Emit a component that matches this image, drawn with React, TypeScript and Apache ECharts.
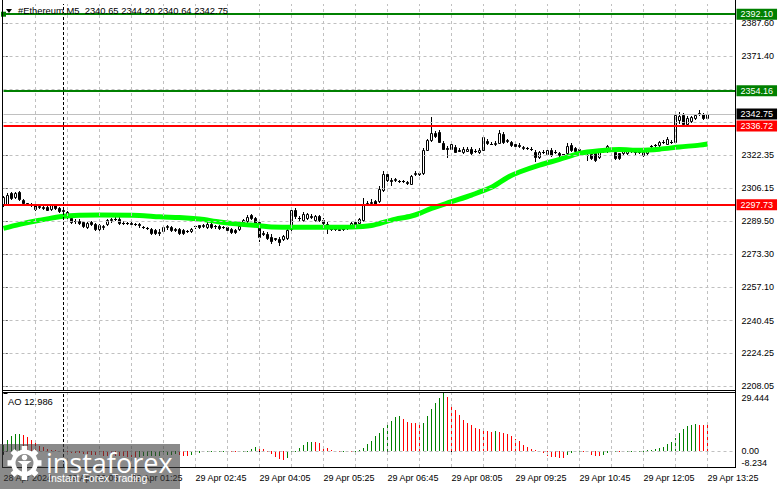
import React, { useEffect, useRef } from 'react';
import * as echarts from 'echarts';

const symbolTitle = '#Ethereum,M5';
const timeLabels = ['28 Apr 2024', '29 Apr 00:05', '29 Apr 01:25', '29 Apr 02:45', '29 Apr 04:05', '29 Apr 05:25', '29 Apr 06:45', '29 Apr 08:05', '29 Apr 09:25', '29 Apr 10:45', '29 Apr 12:05', '29 Apr 13:25'];
const timeLabelIdx = [0, 16, 32, 48, 64, 80, 96, 112, 128, 144, 160, 176];
const priceGrid = [2387.6, 2371.4, 2354.75, 2338.55, 2322.35, 2306.15, 2289.5, 2273.3, 2257.1, 2240.45, 2224.25, 2208.05];
const priceLabels = [2387.6, 2371.4, 2322.35, 2306.15, 2289.5, 2273.3, 2257.1, 2240.45, 2224.25, 2208.05];
const greenLevels = [2392.1, 2354.16];
const redLevels = [2336.72, 2297.73];
const separatorIdx = 15;

const openP = [
  2298.1, 2298.1, 2303.5, 2301.5, 2304.0, 2300.1, 2298.6, 2298.1, 2297.6, 2296.8,
  2296.6, 2296.6, 2295.6, 2297.6, 2296.1, 2295.1, 2294.1, 2291.2, 2289.7, 2289.7,
  2289.2, 2286.7, 2289.2, 2288.2, 2285.7, 2286.9, 2288.2, 2290.2, 2290.7, 2290.7,
  2288.7, 2288.9, 2288.7, 2288.4, 2288.2, 2286.9, 2286.4, 2285.7, 2285.2, 2284.2,
  2284.7, 2286.7, 2286.7, 2285.7, 2285.6, 2285.2, 2284.9, 2284.9, 2287.2, 2287.8,
  2287.5, 2286.8, 2288.5, 2287.2, 2287.5, 2286.8, 2286.8, 2285.9, 2285.2, 2285.6,
  2289.2, 2289.7, 2292.6, 2291.2, 2289.2, 2283.7, 2283.5, 2281.8, 2281.3, 2280.8,
  2280.8, 2281.3, 2285.7, 2295.1, 2291.4, 2290.2, 2291.2, 2292.1, 2290.2, 2292.1,
  2290.2, 2288.2, 2285.7, 2285.6, 2285.7, 2285.7, 2286.2, 2286.9, 2289.2, 2288.9,
  2290.2, 2298.3, 2298.6, 2299.6, 2299.6, 2305.0, 2312.9, 2310.0, 2310.2, 2309.7,
  2309.5, 2309.0, 2308.3, 2312.9, 2313.3, 2313.3, 2325.1, 2329.7, 2333.3, 2333.8,
  2328.4, 2325.8, 2325.6, 2326.4, 2324.8, 2323.9, 2324.4, 2325.6, 2324.4, 2323.8,
  2325.1, 2329.5, 2328.1, 2328.1, 2328.4, 2333.0, 2329.4, 2328.9, 2328.1, 2327.3,
  2326.1, 2326.0, 2325.4, 2323.9, 2321.5, 2323.9, 2322.8, 2325.1, 2323.9, 2323.4,
  2322.8, 2323.2, 2327.3, 2326.1, 2325.1, 2323.9, 2322.3, 2322.8, 2323.2, 2321.5,
  2324.4, 2324.4, 2325.3, 2323.9, 2323.2, 2323.2, 2323.5, 2324.4, 2323.8, 2323.8,
  2322.3, 2323.2, 2326.8, 2327.3, 2327.3, 2328.9, 2328.1, 2328.9, 2328.9, 2339.6,
  2342.1, 2338.0, 2339.3, 2340.5, 2342.9, 2342.6, 2340.65,
];
const highP = [
  2302.0, 2303.5, 2304.0, 2304.0, 2304.5, 2300.6, 2298.8, 2298.6, 2298.1, 2297.6,
  2297.1, 2297.1, 2298.1, 2298.1, 2296.6, 2295.6, 2294.6, 2292.1, 2290.7, 2290.7,
  2289.7, 2289.2, 2289.7, 2288.7, 2288.2, 2287.7, 2290.7, 2291.2, 2291.7, 2291.7,
  2289.7, 2289.2, 2289.2, 2288.7, 2288.7, 2287.2, 2286.7, 2286.2, 2285.7, 2285.7,
  2287.2, 2287.7, 2287.2, 2286.2, 2286.2, 2285.7, 2285.2, 2286.2, 2287.9, 2287.9,
  2288.2, 2289.2, 2288.9, 2287.9, 2287.9, 2287.4, 2287.2, 2286.2, 2285.7, 2287.7,
  2290.7, 2292.6, 2293.1, 2291.7, 2289.7, 2284.7, 2284.2, 2283.2, 2281.5, 2281.8,
  2282.7, 2285.7, 2295.6, 2296.1, 2292.1, 2294.1, 2293.6, 2293.1, 2292.6, 2292.6,
  2291.2, 2289.2, 2286.2, 2286.2, 2286.2, 2286.7, 2287.7, 2289.2, 2289.7, 2291.2,
  2300.9, 2299.6, 2300.6, 2300.1, 2307.0, 2314.7, 2313.9, 2310.9, 2310.9, 2310.0,
  2310.0, 2309.5, 2312.4, 2314.4, 2313.9, 2325.8, 2330.2, 2341.3, 2334.2, 2334.7,
  2329.2, 2326.8, 2328.2, 2327.3, 2325.8, 2326.3, 2326.3, 2326.3, 2325.3, 2325.8,
  2331.7, 2330.5, 2328.7, 2329.2, 2334.7, 2333.7, 2330.2, 2329.5, 2328.7, 2328.2,
  2326.8, 2326.3, 2326.3, 2324.8, 2324.5, 2324.8, 2325.3, 2325.8, 2324.8, 2323.8,
  2323.1, 2328.4, 2328.2, 2326.5, 2325.8, 2324.5, 2323.3, 2323.3, 2323.8, 2324.3,
  2325.3, 2327.3, 2325.8, 2324.3, 2323.6, 2325.3, 2325.5, 2325.3, 2324.5, 2324.1,
  2324.3, 2326.0, 2327.5, 2328.0, 2329.5, 2329.7, 2331.5, 2329.7, 2343.3, 2343.7,
  2343.1, 2341.6, 2341.6, 2342.9, 2344.9, 2343.3, 2344.2,
];
const lowP = [
  2297.1, 2297.6, 2300.6, 2301.1, 2300.1, 2298.1, 2297.6, 2297.1, 2295.1, 2296.1,
  2295.6, 2295.1, 2295.1, 2295.6, 2294.1, 2294.1, 2291.2, 2288.7, 2288.7, 2288.2,
  2286.7, 2286.2, 2287.7, 2285.2, 2285.2, 2285.7, 2287.7, 2289.2, 2290.2, 2288.2,
  2288.2, 2288.2, 2287.7, 2287.7, 2286.7, 2286.2, 2285.7, 2283.2, 2283.2, 2282.8,
  2284.2, 2285.9, 2285.0, 2285.0, 2283.2, 2283.2, 2284.5, 2284.5, 2286.4, 2286.2,
  2286.7, 2286.4, 2286.4, 2286.4, 2285.7, 2286.2, 2285.2, 2283.7, 2284.0, 2285.2,
  2288.7, 2289.2, 2290.7, 2288.7, 2280.0, 2282.7, 2280.8, 2278.8, 2280.3, 2277.8,
  2280.3, 2280.8, 2285.2, 2291.2, 2290.2, 2289.7, 2290.7, 2291.2, 2289.7, 2289.7,
  2288.2, 2283.7, 2285.2, 2285.2, 2285.2, 2285.2, 2285.7, 2286.7, 2287.7, 2288.7,
  2289.7, 2297.6, 2298.1, 2297.6, 2299.1, 2304.5, 2309.5, 2307.5, 2309.5, 2309.2,
  2309.0, 2308.0, 2308.0, 2312.4, 2312.4, 2312.9, 2324.8, 2329.2, 2331.2, 2328.7,
  2325.3, 2321.3, 2325.3, 2323.8, 2324.3, 2323.5, 2324.3, 2323.0, 2323.8, 2323.3,
  2324.8, 2327.7, 2327.7, 2327.3, 2328.2, 2328.5, 2328.7, 2326.8, 2326.3, 2326.5,
  2325.3, 2325.5, 2324.8, 2319.5, 2321.1, 2323.3, 2322.3, 2321.8, 2323.3, 2321.8,
  2322.3, 2322.8, 2324.3, 2324.1, 2324.3, 2323.3, 2319.8, 2320.3, 2319.4, 2321.1,
  2323.8, 2324.1, 2324.3, 2320.3, 2320.3, 2322.8, 2323.1, 2323.8, 2323.1, 2323.3,
  2321.8, 2322.8, 2326.0, 2326.5, 2326.8, 2328.2, 2327.7, 2328.2, 2328.5, 2338.2,
  2337.7, 2337.7, 2338.9, 2340.1, 2342.1, 2340.1, 2340.64,
];
const closeP = [
  2301.5, 2302.5, 2301.1, 2303.5, 2300.6, 2298.6, 2298.1, 2297.6, 2295.6, 2297.1,
  2296.1, 2295.4, 2297.6, 2296.1, 2294.6, 2294.6, 2291.7, 2289.2, 2289.9, 2288.7,
  2287.2, 2288.7, 2288.2, 2285.7, 2287.7, 2287.2, 2290.2, 2290.7, 2290.9, 2288.7,
  2288.9, 2288.7, 2288.4, 2288.2, 2287.7, 2286.7, 2286.2, 2283.7, 2283.7, 2283.7,
  2286.7, 2287.2, 2285.5, 2285.5, 2283.9, 2283.9, 2284.8, 2285.9, 2287.1, 2286.8,
  2287.6, 2288.5, 2286.8, 2287.1, 2286.2, 2286.9, 2285.5, 2284.2, 2284.4, 2287.2,
  2290.2, 2291.7, 2291.2, 2288.9, 2282.0, 2283.5, 2281.3, 2279.8, 2281.0, 2279.3,
  2282.3, 2285.2, 2295.1, 2292.1, 2291.2, 2293.1, 2293.1, 2291.9, 2292.1, 2290.2,
  2288.7, 2287.7, 2285.6, 2285.7, 2285.5, 2285.9, 2287.2, 2288.8, 2287.9, 2290.8,
  2298.4, 2298.6, 2299.3, 2298.1, 2305.5, 2312.9, 2310.0, 2309.7, 2310.4, 2309.5,
  2309.4, 2308.6, 2311.9, 2313.3, 2312.9, 2325.1, 2329.7, 2333.4, 2331.7, 2328.9,
  2325.6, 2325.6, 2327.7, 2323.9, 2324.6, 2325.6, 2325.6, 2323.4, 2324.5, 2325.1,
  2331.1, 2328.5, 2327.9, 2328.2, 2333.3, 2328.9, 2329.6, 2327.3, 2326.8, 2327.1,
  2326.3, 2325.8, 2325.5, 2321.5, 2323.9, 2324.0, 2324.8, 2322.3, 2324.0, 2322.2,
  2322.7, 2326.8, 2324.8, 2324.5, 2325.2, 2323.8, 2322.4, 2320.7, 2319.8, 2323.9,
  2324.5, 2326.8, 2324.5, 2320.7, 2320.7, 2324.8, 2325.1, 2324.5, 2323.9, 2323.7,
  2323.9, 2325.6, 2326.9, 2327.4, 2328.9, 2329.0, 2330.1, 2329.0, 2342.1, 2341.6,
  2338.0, 2340.5, 2341.0, 2342.1, 2343.0, 2340.5, 2342.75,
];

// moving average, read at selected bars
const maIdx = [0, 4, 9, 15, 19, 24, 34, 39, 44, 49, 54, 59, 64, 67, 74, 87, 92, 97, 102, 104, 107, 112, 117, 122, 126, 129, 134, 139, 144, 149, 154, 159, 164, 169, 174, 176];
const maVal = [2286.1, 2288.1, 2290.1, 2292.1, 2292.6, 2292.7, 2292.5, 2291.8, 2291.5, 2290.7, 2289.3, 2288.2, 2287.4, 2286.8, 2286.7, 2286.8, 2287.5, 2290.2, 2292.2, 2293.5, 2296.0, 2299.3, 2302.6, 2306.4, 2311.3, 2314.0, 2317.4, 2320.2, 2323.2, 2324.5, 2325.1, 2324.8, 2325.3, 2326.4, 2327.3, 2327.9];

// Awesome Oscillator
const aoVals = [
  3.05, 5.6, 7.3, 8.5, 8.65, 8.1, 7.0, 5.6, 3.9, 2.5, 1.7, 1.0, 0.5, 0.2, 0.0,
  -0.3, -0.6, -0.9, -1.1, -1.3, -1.5, -1.7, -1.9, -2.1, -2.3, -2.4, -2.5, -2.6, -2.7, -2.8, -2.85, -2.9, -2.95, -3.0,
  -2.9, -2.8, -2.7, -2.6, -2.5, -2.4, -2.3, -2.1, -1.9, -1.7,
  -1.9, -2.4, -2.6,
  -2.0, -1.4, -0.9, -0.5, -0.3, -0.2, -0.1, 0.05, 0.1,
  -0.05, -0.1, -0.4, -0.5,
  -0.2, 0.1, 1.0, 2.2,
  1.4, 0.85, -0.2, -1.5, -3.2, -4.2, -4.6,
  -3.7, -0.85, 0.1, 1.5, 3.05, 4.6, 4.7,
  4.3, 4.2, 2.2, 1.2, 0.5, 0.1, -0.3,
  -0.2, -0.15, -0.3, 0.1, 0.2, 1.4, 3.6, 5.1, 7.3, 9.3, 11.5, 13.7, 15.4, 17.1, 17.5,
  16.1, 14.6, 14.4, 14.3, 14.1,
  14.4, 17.5, 21.2, 24.6, 26.8, 29.44,
  27.5, 24.0, 20.8, 18.2, 15.9, 14.4, 13.3, 11.8, 11.0, 10.5, 10.0, 9.8,
  9.9,
  9.4, 9.0, 8.7, 7.6, 6.0, 4.8, 3.05, 1.7, 0.85, 0.2, -0.5, -1.2, -2.5, -3.2, -3.3, -3.4, -3.45,
  -2.2, -1.2, -0.5, -0.2,
  -0.3, -0.8, -2.2, -2.5, -2.6,
  -2.0, -1.2, -0.85, -0.3,
  -0.5, -0.8,
  -0.5, -0.3,
  -0.35,
  -0.2, 0.0, 0.2, 0.5, 0.85, 1.4, 2.2, 3.6, 4.6, 6.45, 9.3, 11.0, 12.4, 13.2, 13.5,
  13.3, 13.1, 12.986,
];
const aoAxisLabels = [-8.234, 0, 29.444];

const FONT = 'Liberation Sans';

export default function App() {
  const ref = useRef<HTMLDivElement>(null);

  useEffect(() => {
    if (!ref.current) return;
    const chart = echarts.init(ref.current, undefined, { renderer: 'svg' });
    const n = closeP.length;
    const last = n - 1;

    const candleData = closeP.map((c, i) => [i, openP[i], c, lowP[i], highP[i]]);
    const maData = maIdx.map((x, k) => [x, maVal[k]]);
    const aoData = aoVals.map((v, i) => [i, v]);

    const vGrid: number[] = [];
    for (let v = 8; v <= 176; v += 8) vGrid.push(v);

    const gridLine = { color: '#c0c0c0', width: 1, type: [3, 3] };
    const sepLine = { color: '#000000', width: 1, type: [3, 2] };

    const levelLabel = (bg: string) => ({
      show: true,
      position: 'end',
      distance: 1,
      formatter: (p: any) => Number(p.value).toFixed(2),
      color: '#ffffff',
      backgroundColor: bg,
      padding: [1, 4, 0, 4],
      lineHeight: 10,
      fontSize: 9,
      fontFamily: FONT,
    });

    const option: any = {
      animation: false,
      backgroundColor: '#ffffff',
      grid: [
        { left: 3.5, top: 4, width: 732, height: 386 },
        { left: 3.5, top: 393, width: 732, height: 74 },
      ],
      xAxis: [
        { type: 'value', gridIndex: 0, min: 0, max: 183, show: false },
        {
          type: 'value', gridIndex: 1, min: 0, max: 183,
          axisLine: { show: false },
          axisTick: { show: true, length: 4, lineStyle: { color: '#000' }, customValues: timeLabelIdx },
          axisLabel: {
            customValues: timeLabelIdx,
            formatter: (v: number) => {
              const k = timeLabelIdx.indexOf(v);
              return k >= 0 ? timeLabels[k] : '';
            },
            align: 'left', margin: 6, color: '#000', fontSize: 9, fontFamily: FONT,
          },
          splitLine: { show: false },
        },
      ],
      yAxis: [
        {
          type: 'value', gridIndex: 0, position: 'right', min: 2206.1, max: 2397.15,
          axisLine: { show: false },
          axisTick: { show: true, length: 4, lineStyle: { color: '#000' }, customValues: priceLabels },
          axisLabel: {
            customValues: priceLabels,
            formatter: (v: number) => v.toFixed(2),
            margin: 6, color: '#000', fontSize: 9, fontFamily: FONT,
          },
          splitLine: { show: false },
        },
        {
          type: 'value', gridIndex: 1, position: 'right', min: -8.234, max: 29.444,
          axisLine: { show: false },
          axisTick: { show: true, length: 4, lineStyle: { color: '#000' }, customValues: aoAxisLabels },
          axisLabel: {
            customValues: aoAxisLabels,
            formatter: (v: number) => (v === 0 ? '0.00' : v.toFixed(3)),
            verticalAlignMinLabel: 'bottom',
            verticalAlignMaxLabel: 'top',
            margin: 6, color: '#000', fontSize: 9, fontFamily: FONT,
          },
          splitLine: { show: false },
        },
      ],
      series: [
        {
          type: 'line', xAxisIndex: 0, yAxisIndex: 0, data: [], silent: true, z: 1,
          markLine: {
            silent: true, symbol: ['none', 'none'], label: { show: false }, lineStyle: gridLine,
            data: [
              ...priceGrid.map((p) => ({ yAxis: p })),
              ...vGrid.map((v) => ({ xAxis: v })),
              { xAxis: separatorIdx, lineStyle: sepLine },
              { yAxis: closeP[last], lineStyle: { color: '#c0c0c0', width: 1, type: 'solid' } },
            ],
          },
        },
        {
          type: 'custom', xAxisIndex: 0, yAxisIndex: 0, z: 2,
          data: candleData,
          encode: { x: 0, y: [1, 2, 3, 4] },
          renderItem: (params: any, api: any) => {
            const i = api.value(0);
            const o = api.value(1), c = api.value(2), lo = api.value(3), hi = api.value(4);
            const pO = api.coord([i, o]);
            const x = Math.floor(pO[0]) + 0.5;
            const yO = pO[1];
            const yC = api.coord([i, c])[1];
            const yL = api.coord([i, lo])[1];
            const yH = api.coord([i, hi])[1];
            const top = Math.round(Math.min(yO, yC)) + 0.5;
            const bot = Math.round(Math.max(yO, yC)) + 0.5;
            const bull = c >= o;
            const children: any[] = [
              { type: 'line', shape: { x1: x, y1: Math.round(yH), x2: x, y2: Math.round(yL) + 1 }, style: { stroke: '#000', lineWidth: 1 } },
            ];
            if (bot - top < 1) {
              children.push({ type: 'line', shape: { x1: x - 1.5, y1: top, x2: x + 1.5, y2: top }, style: { stroke: '#000', lineWidth: 1 } });
            } else {
              children.push({ type: 'rect', shape: { x: x - 1, y: top, width: 2, height: bot - top }, style: { fill: bull ? '#fff' : '#000', stroke: '#000', lineWidth: 1 } });
            }
            return { type: 'group', children };
          },
        },
        {
          type: 'line', xAxisIndex: 0, yAxisIndex: 0, z: 3, data: maData, smooth: 0.3,
          symbol: 'none', silent: true,
          lineStyle: { color: '#00ff00', width: 5 },
        },
        {
          type: 'line', xAxisIndex: 0, yAxisIndex: 0, data: [], silent: true, z: 5,
          markLine: {
            silent: true, symbol: ['none', 'none'],
            data: [
              { yAxis: greenLevels[0], symbol: ['emptyRect', 'emptyRect'], symbolSize: 5, lineStyle: { color: '#008000', width: 2, type: 'solid' }, label: levelLabel('#008000') },
              { yAxis: greenLevels[1], lineStyle: { color: '#008000', width: 2, type: 'solid' }, label: levelLabel('#008000') },
              { yAxis: redLevels[0], lineStyle: { color: '#ff0000', width: 2, type: 'solid' }, label: levelLabel('#ff0000') },
              { yAxis: redLevels[1], lineStyle: { color: '#ff0000', width: 2, type: 'solid' }, label: levelLabel('#ff0000') },
              { yAxis: closeP[last], lineStyle: { color: 'rgba(0,0,0,0)', width: 1 }, label: levelLabel('#000000') },
            ],
          },
        },
        {
          type: 'line', xAxisIndex: 1, yAxisIndex: 1, data: [], silent: true, z: 1,
          markLine: {
            silent: true, symbol: ['none', 'none'], label: { show: false }, lineStyle: gridLine,
            data: [
              { yAxis: 0 },
              ...vGrid.map((v) => ({ xAxis: v })),
              { xAxis: separatorIdx, lineStyle: sepLine },
            ],
          },
        },
        {
          type: 'custom', xAxisIndex: 1, yAxisIndex: 1, z: 2,
          data: aoData,
          encode: { x: 0, y: 1 },
          renderItem: (params: any, api: any) => {
            const idx = params.dataIndex;
            const i = api.value(0);
            const v = api.value(1);
            const p0 = api.coord([i, 0]);
            const p1 = api.coord([i, v]);
            const up = idx === 0 ? true : aoVals[idx] > aoVals[idx - 1];
            const y0 = Math.round(p0[1]);
            const y1 = Math.round(p1[1]);
            const h = Math.max(1, Math.abs(y1 - y0));
            return {
              type: 'rect',
              shape: { x: Math.floor(p0[0]), y: Math.min(y0, y1), width: 1, height: h },
              style: { fill: up ? '#008000' : '#ff0000' },
            };
          },
        },
      ],
      graphic: [
        { type: 'line', silent: true, z: 50, shape: { x1: 2.5, y1: 0, x2: 2.5, y2: 468 }, style: { stroke: '#000', lineWidth: 1 } },
        { type: 'line', silent: true, z: 50, shape: { x1: 735.5, y1: 0, x2: 735.5, y2: 468 }, style: { stroke: '#000', lineWidth: 1 } },
        { type: 'line', silent: true, z: 50, shape: { x1: 2.5, y1: 390.5, x2: 735.5, y2: 390.5 }, style: { stroke: '#000', lineWidth: 1 } },
        { type: 'line', silent: true, z: 50, shape: { x1: 2.5, y1: 392.5, x2: 735.5, y2: 392.5 }, style: { stroke: '#000', lineWidth: 1 } },
        { type: 'line', silent: true, z: 50, shape: { x1: 2.5, y1: 467.5, x2: 735.5, y2: 467.5 }, style: { stroke: '#000', lineWidth: 1 } },
        { type: 'polygon', silent: true, z: 50, shape: { points: [[6, 9], [12, 9], [9, 13]] }, style: { fill: '#000' } },
        {
          type: 'text', silent: true, z: 50, x: 18, y: 10.5,
          style: {
            text: `${symbolTitle}  ${openP[last].toFixed(2)} ${highP[last].toFixed(2)} ${lowP[last].toFixed(2)} ${closeP[last].toFixed(2)}`,
            fontSize: 9.4, fontFamily: FONT, fill: '#000', verticalAlign: 'middle',
          },
        },
        {
          type: 'text', silent: true, z: 50, x: 8, y: 401,
          style: { text: `AO ${aoVals[last].toFixed(3)}`, fontSize: 9.4, fontFamily: FONT, fill: '#000', verticalAlign: 'middle' },
        },
        {
          type: 'group', x: 0, y: 444, z: 100, silent: true,
          children: [
            { type: 'rect', z: 100, shape: { x: 0, y: 0, width: 180, height: 45 }, style: { fill: 'rgba(60,60,60,0.6)' } },
            { type: 'ring', z: 101, shape: { cx: 24.5, cy: 19, r: 13.5, r0: 9 }, style: { fill: '#ffffff' } },
            ...[0, 1, 2, 3, 4, 5, 6, 7].map((k) => ({
              type: 'rect', z: 101, x: 24.5, y: 19, rotation: (k * Math.PI) / 4,
              shape: { x: -2.8, y: -17, width: 5.6, height: 5 }, style: { fill: '#ffffff' },
            })),
            { type: 'circle', z: 101, shape: { cx: 24.5, cy: 13.5, r: 2.8 }, style: { fill: '#ffffff' } },
            { type: 'polygon', z: 101, shape: { points: [[17.5, 17], [31.5, 17], [27, 20.5], [27, 31], [22, 31], [22, 20.5]] }, style: { fill: '#ffffff' } },
            { type: 'text', z: 101, x: 46, y: 18.2, style: { text: 'instaforex', fontSize: 27, fontFamily: 'Open Sans', fill: '#ffffff', verticalAlign: 'middle' } },
            { type: 'text', z: 101, x: 48, y: 34, style: { text: 'Instant Forex Trading', fontSize: 10.5, fontFamily: FONT, fill: '#ffffff', verticalAlign: 'middle' } },
          ],
        },
      ],
    };

    chart.setOption(option);
    return () => {
      chart.dispose();
    };
  }, []);

  return (
    <div
      ref={ref}
      style={{ position: 'absolute', left: 0, top: 0, width: 781, height: 489, background: '#ffffff' }}
    />
  );
}
